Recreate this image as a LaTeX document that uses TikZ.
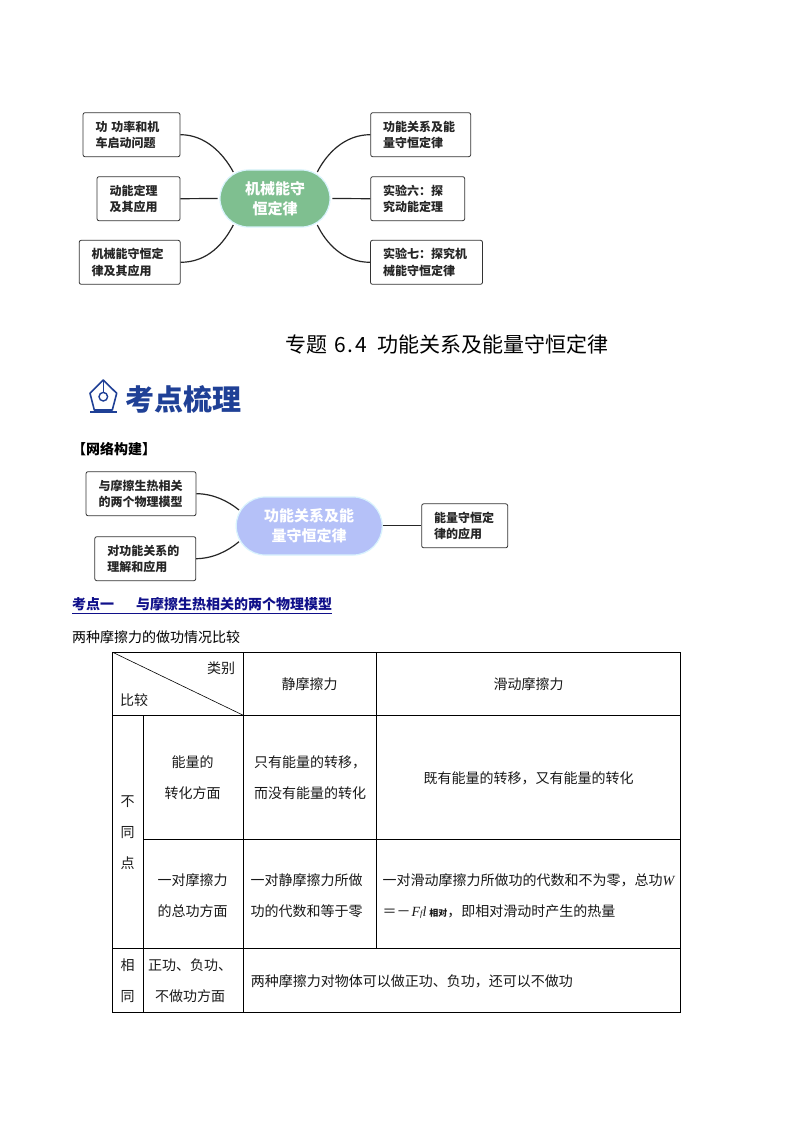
\documentclass[tikz,border=0pt]{standalone}
\usepackage{fontspec}
\usepackage{amsmath}
\setmainfont{Noto Sans CJK SC}
\newfontfamily\latinit{Liberation Serif}
\usetikzlibrary{shapes,arrows,positioning,calc}
\definecolor{corefirst}{HTML}{7FBF90}
\definecolor{coresecond}{HTML}{B5C1F8}
\definecolor{headblue}{HTML}{1F4096}
\definecolor{linkblue}{HTML}{10108A}
\tikzset{
  mapbox/.style={draw=black!80, line width=0.8pt, rounded corners=2pt, minimum height=44pt, inner xsep=12.5pt, inner ysep=0pt, align=left, font=\fontsize{12}{16.5}\selectfont\bfseries, text=black!85},
  corebox/.style={rounded rectangle, draw=white!85!cyan, line width=1.2pt, text=white, align=center, inner sep=0pt},
  link/.style={line width=1.2pt, black!85},
  celltext/.style={inner sep=0pt, align=center, font=\fontsize{14}{31}\selectfont, text=black!90},
  tableline/.style={line width=0.8pt, black}
}
\begin{document}
\begin{tikzpicture}[x=1pt,y=-1pt]
  \useasboundingbox (0,0) rectangle (794,1123);
  \fill[white] (0,0) rectangle (794,1123);
  % first map
  \node[corebox, fill=corefirst, minimum width=110pt, minimum height=57pt, font=\fontsize{15}{20}\selectfont\bfseries] (mechcore) at (275,198.5) {机械能守\\恒定律};
  \node[mapbox, text width=72pt] (workbox) at (131.5,134.7) {功 功率和机\\车启动问题};
  \node[mapbox, text width=58pt] (kinbox) at (138.5,198.7) {动能定理\\及其应用};
  \node[mapbox, text width=76pt] (mechbox) at (129.7,262.3) {机械能守恒定\\律及其应用};
  \node[mapbox, text width=75pt] (relbox) at (420.7,134.7) {功能关系及能\\量守恒定律};
  \node[mapbox, text width=69pt] (sixbox) at (417.7,198.7) {实验六：探\\究动能定理};
  \node[mapbox, text width=87pt] (sevenbox) at (426.5,262.3) {实验七：探究机\\械能守恒定律};
  \coordinate (mechnw) at (233.3,172);
  \coordinate (mechw) at (217.7,198.5);
  \coordinate (mechsw) at (233.3,225);
  \coordinate (mechne) at (317.3,172);
  \coordinate (meche) at (332.3,198.5);
  \coordinate (mechse) at (317.3,225);
  \draw[link] (workbox.east) .. controls (205,134.7) and (223,153) .. (mechnw);
  \draw[link] (kinbox.east) -- (mechw);
  \draw[link] (mechbox.east) .. controls (208,262.3) and (224,243) .. (mechsw);
  \draw[link] (relbox.west) .. controls (345,134.7) and (327,153) .. (mechne);
  \draw[link] (sixbox.west) -- (meche);
  \draw[link] (sevenbox.west) .. controls (343,262.3) and (326,243) .. (mechse);
  % title and heading
  \node[inner sep=0pt, anchor=west, font=\fontsize{21}{24}\selectfont] (title) at (285,344) {专题\hspace{7pt}6\hspace{2pt}.\hspace{2pt}4\hspace{10pt}功能关系及能量守恒定律};
  \node[inner sep=0pt, anchor=west, font=\fontsize{29}{32}\selectfont\bfseries, text=headblue] (heading) at (125.5,399) {考点梳理};
  \draw[headblue, line width=1.6pt, line join=round] (103.3,380) -- (116.7,393.3) -- (112.3,410) -- (94.3,410) -- (90,393.3) -- cycle;
  \draw[headblue, line width=1.4pt] (103.3,396.7) circle (4.3);
  \draw[headblue, line width=1.2pt] (103.3,380) -- (103.3,392.4);
  \draw[headblue, line width=2pt] (90,411.7) -- (117.3,411.7);
  \node[inner sep=0pt, anchor=west, font=\fontsize{14}{16}\selectfont\bfseries] (netlabel) at (72,449) {【网络构建】};
  % second map
  \node[corebox, fill=coresecond, minimum width=146pt, minimum height=58pt, font=\fontsize{15}{20}\selectfont\bfseries] (relcore) at (309.2,526) {功能关系及能\\量守恒定律};
  \node[mapbox, text width=85pt] (heatbox) at (141,493.7) {与摩擦生热相关\\的两个物理模型};
  \node[mapbox, text width=76pt] (appbox) at (145.3,558.7) {对功能关系的\\理解和应用};
  \node[mapbox, text width=61pt] (lawbox) at (464.7,525.8) {能量守恒定\\律的应用};
  \coordinate (relnw) at (239,510);
  \coordinate (relsw) at (239,541.7);
  \coordinate (rele) at (382.7,525.8);
  \draw[link] (heatbox.east) .. controls (213,493.7) and (228,501) .. (relnw);
  \draw[link] (appbox.east) .. controls (213,558.5) and (228,551) .. (relsw);
  \draw[link] (rele) -- (lawbox.west);
  % section text
  \node[inner sep=0pt, anchor=west, font=\fontsize{14}{16}\selectfont\bfseries, text=linkblue] (section) at (72,606) {\underline{考点一\hspace{22pt}与摩擦生热相关的两个物理模型}};
  \node[inner sep=0pt, anchor=west, font=\fontsize{14}{16}\selectfont] (intro) at (72,637) {两种摩擦力的做功情况比较};
  % table
  \draw[tableline] (112.7,652.3) rectangle (680.7,1012.3);
  \draw[tableline] (112.7,715.3) -- (680.7,715.3);
  \draw[tableline] (143.3,839) -- (680.7,839);
  \draw[tableline] (112.7,948.3) -- (680.7,948.3);
  \draw[tableline] (143.3,715.3) -- (143.3,1012.3);
  \draw[tableline] (243.3,652.3) -- (243.3,1012.3);
  \draw[tableline] (376.7,652.3) -- (376.7,948.3);
  \draw[line width=0.6pt] (112.7,652.3) -- (243.3,715.3);
  \node[celltext, anchor=west] (kindcell) at (207,668.3) {类别};
  \node[celltext, anchor=west] (compcell) at (120,700) {比较};
  \node[celltext] (staticcell) at (309.5,684) {静摩擦力};
  \node[celltext] (slidecell) at (528.5,684) {滑动摩擦力};
  \node[celltext] (diffcell) at (127.7,833) {不\\同\\点};
  \node[celltext] (energycell) at (192.5,777.7) {能量的\\转化方面};
  \node[celltext] (onlycell) at (310,777.7) {只有能量的转移，\\而没有能量的转化};
  \node[celltext] (bothcell) at (528.5,778) {既有能量的转移，又有能量的转化};
  \node[celltext] (totalcell) at (192.5,895.3) {一对摩擦力\\的总功方面};
  \node[celltext] (zerocell) at (306.5,895.3) {一对静摩擦力所做\\功的代数和等于零};
  \node[celltext, anchor=west, align=left] (nonzerocell) at (382.3,895.8) {一对滑动摩擦力所做功的代数和不为零，总功{\latinit\itshape W}\\＝－\hspace{1pt}{\latinit\itshape F}{\latinit\itshape\fontsize{9}{9}\selectfont f}{\latinit\itshape l}\hspace{3pt}{\fontsize{9}{9}\selectfont\bfseries 相对}，即相对滑动时产生的热量};
  \node[celltext] (samecell) at (127.7,981) {相\\同};
  \node[celltext] (signcell) at (190,981) {正功、负功、\\不做功方面};
  \node[celltext, anchor=west] (eithercell) at (250.7,981) {两种摩擦力对物体可以做正功、负功，还可以不做功};
\end{tikzpicture}
\end{document}
